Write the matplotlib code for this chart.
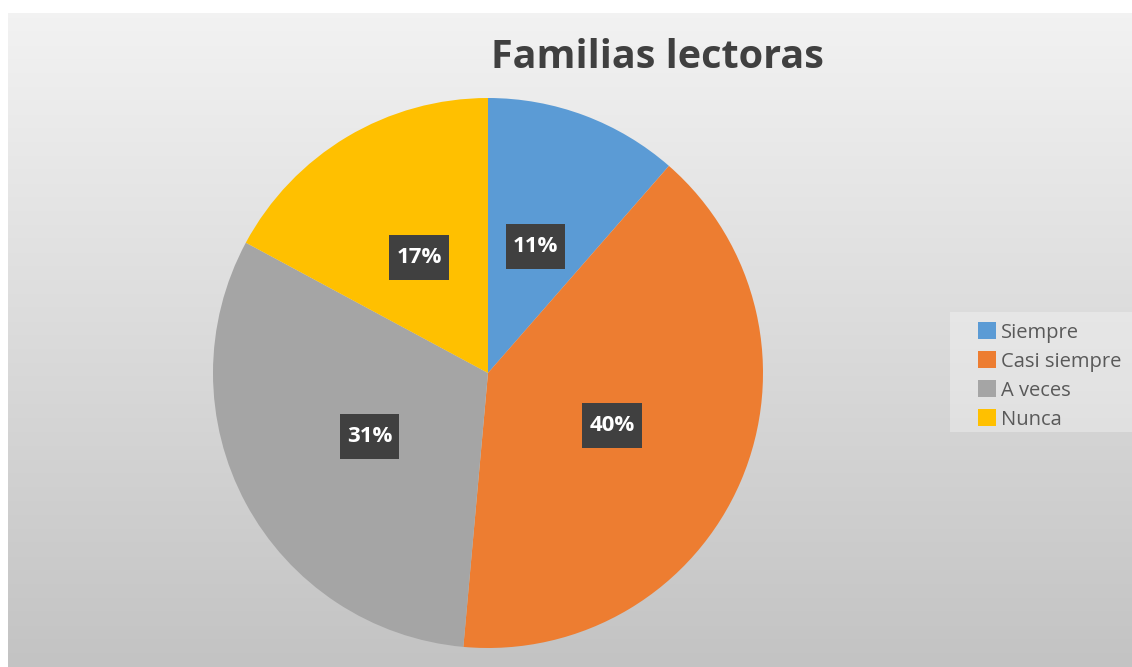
import numpy as np
import matplotlib
matplotlib.use("Agg")
import matplotlib.pyplot as plt
from matplotlib.patches import Patch, Rectangle
from matplotlib.path import Path

categories = ["Siempre", "Casi siempre", "A veces", "Nunca"]
counts = [4, 14, 11, 6]
colors = ["#5B9BD5", "#ED7D31", "#A5A5A5", "#FFC000"]
title = "Familias lectoras"

W, H = 1132, 667
fig = plt.figure(figsize=(W / 100, H / 100), dpi=100)
fig.patch.set_facecolor("white")

# background gradient panel
bg = fig.add_axes([8 / W, 0, 1 - 8 / W, 1 - 13 / H])
grad = np.linspace(0, 1, 256).reshape(-1, 1)
top = np.array([0.95, 0.95, 0.95])
bot = np.array([0.765, 0.765, 0.765])
img = top + (bot - top) * grad[:, :, None] * np.ones((1, 1, 3))
bg.imshow(img, aspect="auto", extent=[0, 1, 0, 1], origin="upper")
bg.set_axis_off()

# light region behind legend
fig.patches.append(Rectangle((950 / W, 1 - 432 / H), (W - 950) / W, 120 / H,
                             transform=fig.transFigure, facecolor="white",
                             alpha=0.3, edgecolor="none", zorder=0.5))


def tallbox(x0, y0, width, height, mutation_size):
    px = 0.32 * mutation_size
    py = 0.54 * mutation_size
    x0, y0 = x0 - px, y0 - py
    x1, y1 = x0 + width + 2 * px, y0 + height + 2 * py
    return Path([(x0, y0), (x1, y0), (x1, y1), (x0, y1), (x0, y0)], closed=True)


# pie axes
cx, cy, r = 488, 373, 275
ax = fig.add_axes([(cx - r) / W, (H - cy - r) / H, 2 * r / W, 2 * r / H])
wedges, texts, autotexts = ax.pie(
    counts, colors=colors, startangle=90, counterclock=False,
    autopct=lambda p: f"{p:.0f}%", pctdistance=0.49,
    wedgeprops=dict(linewidth=0),
    textprops=dict(color="white", fontsize=16, fontweight="bold", family="Open Sans"),
)
for t in autotexts:
    t.set_bbox(dict(facecolor="#404040", edgecolor="none", boxstyle=tallbox))
ax.set_xlim(-1, 1)
ax.set_ylim(-1, 1)
ax.set_aspect("auto")
ax.set_axis_off()

fig.text(657 / W, 1 - 57 / H, title, ha="center", va="center", fontsize=28.5,
         fontweight="bold", color="#404040", family="Open Sans")

handles = [Patch(facecolor=c, edgecolor="none") for c in colors]
leg = fig.legend(handles, categories, loc="center left",
                 bbox_to_anchor=(962 / W, 1 - 376 / H), frameon=False,
                 handlelength=0.9, handleheight=0.9,
                 handletextpad=0.25, labelspacing=0.43, borderpad=0.3,
                 prop=dict(family="Open Sans", size=14.5))
for t in leg.get_texts():
    t.set_color("#595959")

fig.savefig("out.png", dpi=100)
